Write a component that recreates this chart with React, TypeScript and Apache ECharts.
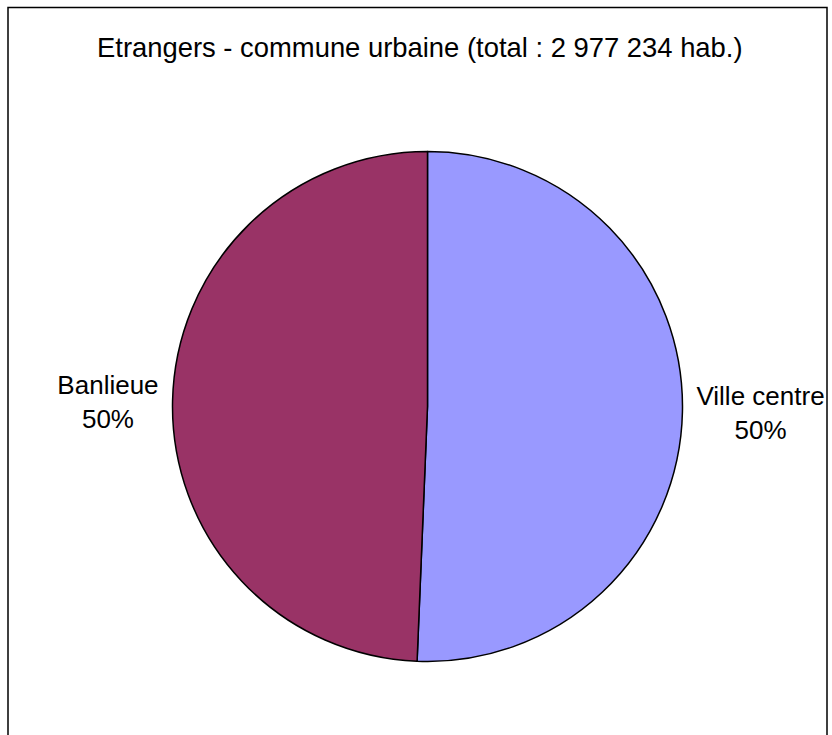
import React, { useEffect, useRef } from "react";
import * as echarts from "echarts";

const titleText = "Etrangers - commune urbaine (total : 2 977 234 hab.)";
const categories = ["Ville centre", "Banlieue"];
const shares = [50.65, 49.35];
const labelPercents = ["50%", "50%"];
const colors = ["#9999FF", "#993366"];

export default function App() {
  const ref = useRef<HTMLDivElement>(null);
  useEffect(() => {
    if (!ref.current) return;
    const chart = echarts.init(ref.current, null, { renderer: "svg" });
    const font = "'Liberation Sans', Arial, sans-serif";
    chart.setOption({
      animation: false,
      backgroundColor: "#ffffff",
      title: {
        text: titleText,
        left: 97,
        top: 34,
        padding: 0,
        textStyle: { fontFamily: font, fontSize: 27.4, fontWeight: "normal", color: "#000" },
      },
      graphic: [
        {
          type: "rect",
          shape: { x: 8, y: 7.5, width: 819, height: 800 },
          style: { fill: "none", stroke: "#000", lineWidth: 1.5 },
          silent: true,
          z: 100,
        },
      ],
      series: [
        {
          type: "pie",
          center: [427.5, 406.5],
          radius: 255,
          startAngle: 90,
          clockwise: true,
          data: categories.map((c, i) => ({
            name: c,
            value: shares[i],
            itemStyle: { color: colors[i] },
          })),
          itemStyle: { borderColor: "#000", borderWidth: 1.5 },
          label: {
            show: true,
            position: "outside",
            fontFamily: font,
            fontSize: 26,
            lineHeight: 34,
            color: "#000",
            overflow: "none",
            bleedMargin: 0,
            formatter: (p: any) => `${p.name}\n${labelPercents[p.dataIndex]}`,
          },
          labelLine: { show: false, length: 9, length2: 0 },
          labelLayout: (params: any) => {
            const r = params.labelRect;
            return {
              x: r.x + r.width / 2,
              y: r.y + r.height / 2 + 1,
              align: "center",
              verticalAlign: "middle",
            };
          },
          emphasis: { disabled: true },
        },
      ],
    });
    return () => chart.dispose();
  }, []);
  return (
    <div
      ref={ref}
      style={{ position: "absolute", left: 0, top: 0, width: 832, height: 735 }}
    />
  );
}
